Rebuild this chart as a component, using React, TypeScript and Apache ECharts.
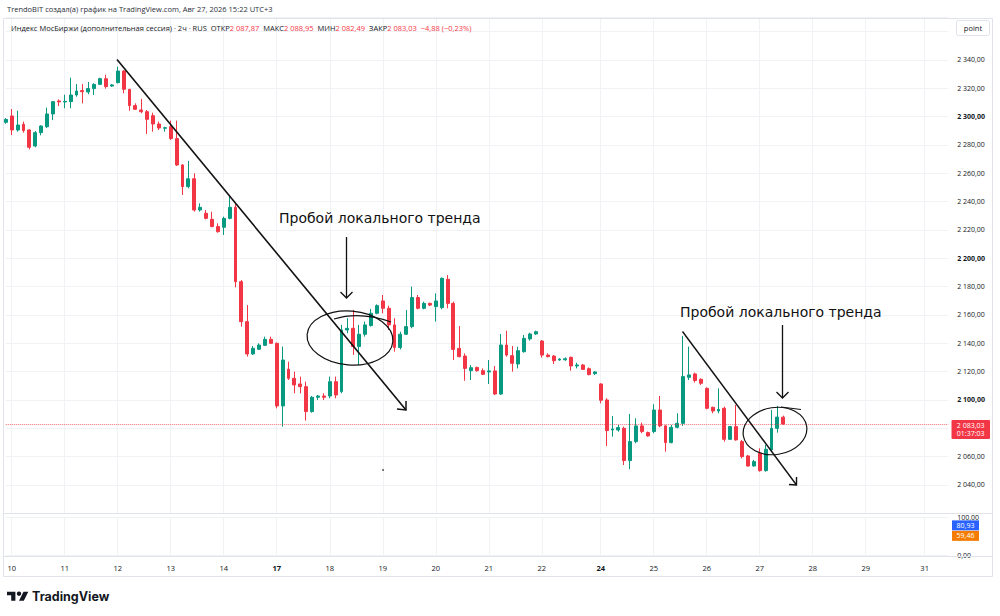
import React, { useEffect, useRef } from 'react';
import * as echarts from 'echarts';

// ---- data (2h candles, index 0 = last bar of the previous session) ----
const opens = [
  2296, 2300.5, 2290.6, 2294.6, 2290.6, 2279.3, 2288.7, 2292.9, 2301.9, 2311.1,
  2310.4, 2310.6, 2315.3, 2318.4, 2317.4, 2319.8, 2322.8, 2326.8, 2321.6, 2324,
  2332.2, 2319.3, 2307.8, 2304.7, 2303.5, 2300.7, 2294.8, 2291.8, 2293, 2284.5,
  2265.9, 2250.6, 2256.2, 2234.1, 2231.8, 2227.5, 2222.4, 2221.9, 2228.2, 2236,
  2183.5, 2155.3, 2132.5, 2135.8, 2138.6, 2142.8, 2140, 2095.8, 2121.7, 2115.3,
  2111.3, 2109.4, 2091.8, 2101.9, 2102.8, 2102.8, 2112.9, 2105.9, 2149.4, 2150.6,
  2137.7, 2146.4, 2152.5, 2161.2, 2169.9, 2164.7, 2153, 2137, 2146.4, 2151.8,
  2172.3, 2164.7, 2168.2, 2165.9, 2165.2, 2185.2, 2168.2, 2136.4, 2131, 2120.7,
  2123, 2120.7, 2119.8, 2120.5, 2104.2, 2138.8, 2131.3, 2125.4, 2134.1, 2143.1,
  2146.6, 2141.6, 2131.7, 2131, 2128.2, 2128.4, 2130.1, 2124, 2124.7, 2122.1,
  2118.6, 2111.3, 2100, 2078.8, 2078.8, 2080, 2057.2, 2070.6, 2081.7, 2077,
  2077.7, 2092.9, 2081.7, 2069.9, 2080.7, 2083.5, 2116, 2118.4, 2114.6, 2108.2,
  2094.8, 2092.2, 2094.1, 2072.2, 2081.2, 2070.6, 2060.5, 2053.4, 2062.4, 2050.1,
  2064.7, 2080, 2087.87,
];
const closes = [
  2298, 2290.6, 2294.1, 2290.1, 2278.4, 2288.7, 2293.4, 2301.9, 2310.6, 2310.4,
  2310.8, 2315.3, 2318.1, 2317.6, 2319.8, 2322.8, 2326.8, 2321.2, 2322.4, 2332.2,
  2319.3, 2307.8, 2305.2, 2303.5, 2298.1, 2294.8, 2292, 2292.2, 2284.5, 2265.9,
  2250.6, 2256.2, 2234.1, 2236, 2228.2, 2222.4, 2218.8, 2228.2, 2236, 2183.5,
  2155.3, 2132.5, 2136.5, 2138.8, 2142.8, 2140, 2095.8, 2128.2, 2115.3, 2110.6,
  2109.4, 2091.8, 2101.9, 2102.8, 2101.9, 2112.9, 2103.5, 2149.4, 2150.6, 2137.7,
  2146.4, 2153, 2161.2, 2166.6, 2164.7, 2153, 2137, 2146.4, 2151.8, 2172.3,
  2164.7, 2168.2, 2167, 2169.9, 2185.9, 2168.2, 2135.7, 2130.6, 2122.3, 2122.8,
  2120.7, 2118.1, 2120.5, 2104.2, 2138.8, 2131.7, 2125.9, 2134.8, 2143.5, 2146.6,
  2148.2, 2131.7, 2130.6, 2127.7, 2128.9, 2129.1, 2124, 2124.7, 2121.6, 2117.9,
  2119.8, 2099.8, 2078.4, 2079.5, 2080.5, 2057.2, 2070.6, 2081.7, 2077.7, 2074.6,
  2092.9, 2081.7, 2069.9, 2080.7, 2083.5, 2116.5, 2117.7, 2113.7, 2111.8, 2094.1,
  2092.2, 2093.4, 2072.2, 2081.2, 2071.8, 2060, 2053.4, 2056.5, 2050.1, 2065.2,
  2080, 2087.91, 2083.03,
];
const lows = [
  2295, 2287, 2289.4, 2288.7, 2276.9, 2278.4, 2286.8, 2292, 2297.6, 2307.5,
  2305.9, 2305.9, 2314.1, 2309.4, 2315.8, 2315.3, 2322.3, 2319.8, 2321, 2323.5,
  2316.5, 2304.2, 2304.7, 2302.4, 2287.8, 2289.4, 2290.6, 2289.4, 2283.5, 2265.2,
  2244.7, 2249.4, 2233, 2233, 2227.5, 2221.9, 2218.1, 2216.5, 2227.5, 2179.5,
  2151.8, 2130.6, 2131.8, 2135.3, 2138.1, 2139.5, 2094.1, 2081.2, 2114.1, 2104.7,
  2104.7, 2085.4, 2091, 2100, 2100, 2101.2, 2101.2, 2104.7, 2147.1, 2131.8,
  2124.7, 2144.7, 2151.8, 2160.5, 2161.2, 2149.4, 2134.1, 2135.7, 2145.9, 2150.6,
  2164, 2164, 2166.3, 2155.3, 2164, 2164.7, 2128.2, 2130.1, 2113.6, 2114.1,
  2120, 2117.6, 2111.3, 2103.5, 2103.5, 2130.6, 2120, 2122.3, 2133.4, 2141.9,
  2145.9, 2129.9, 2130.1, 2125.4, 2127.7, 2127.7, 2120.7, 2122.3, 2121.2, 2117.4,
  2117.6, 2097.6, 2067.5, 2074.1, 2077.6, 2054.1, 2051.1, 2069.4, 2076.5, 2074.1,
  2076.5, 2080.7, 2063.5, 2069.4, 2080, 2081.7, 2114.1, 2112.3, 2110.6, 2093.4,
  2090.6, 2090.6, 2070.6, 2071.8, 2071.3, 2058.8, 2053, 2053, 2049.4, 2049.4,
  2063.5, 2076.9, 2082.49,
];
const highs = [
  2299, 2305.4, 2304.2, 2296.5, 2291.2, 2289.9, 2293.9, 2306.4, 2310.9, 2312.2,
  2315.5, 2327.5, 2323, 2323, 2324.5, 2323.5, 2327.5, 2329.6, 2323, 2335.3,
  2332.9, 2319.5, 2309.4, 2312.5, 2304.7, 2302.8, 2296.5, 2292.8, 2297.2, 2297.2,
  2266.5, 2268.7, 2260, 2238.8, 2234.1, 2232.9, 2224.7, 2229.4, 2243.5, 2238.8,
  2184.7, 2167, 2138.1, 2140, 2144.7, 2144.7, 2140.5, 2137.7, 2127, 2120,
  2116.5, 2113, 2102.8, 2103.5, 2104.7, 2116.5, 2116.5, 2153, 2157.7, 2163.6,
  2153, 2155.3, 2164.3, 2167.5, 2174.1, 2166.6, 2157.7, 2148.2, 2163.5, 2180,
  2174.1, 2169.4, 2168.7, 2175.3, 2186.5, 2188.2, 2169.4, 2152.2, 2132.9, 2124.7,
  2123.5, 2122.3, 2128.2, 2124, 2146.6, 2148.9, 2138.1, 2137.6, 2145.9, 2147.5,
  2148.9, 2142.3, 2132.9, 2131.7, 2129.4, 2130.1, 2130.6, 2126.3, 2125.4, 2123,
  2120.3, 2111.8, 2101.2, 2088.7, 2082.4, 2081.2, 2090.1, 2087.1, 2084, 2077.7,
  2097, 2102.8, 2082.4, 2082.4, 2090.6, 2145.2, 2137.7, 2119.3, 2115.3, 2108.9,
  2095.3, 2108.2, 2095.3, 2081.7, 2096.5, 2071.8, 2061.2, 2057.7, 2065.9, 2068.2,
  2093, 2095.8, 2088.95,
];

// time axis: day labels and the bar slot where each day starts (incl. future days)
const dayLabels = ['10', '11', '12', '13', '14', '17', '18', '19', '20', '21', '22', '24', '25', '26', '27', '28', '29', '31'];
const dayStarts = [1, 10, 19, 28, 37, 46, 55, 64, 73, 82, 91, 101, 110, 119, 128, 137, 146, 156];
const boldDays = ['17', '24'];
const slotCount = 161;

// price scale
const priceMin = 2020;
const priceMax = 2370;
const priceStep = 20;
const labelMin = 2040;
const labelMax = 2340;

// lower pane indicator last values
const indicatorValues = [80.93, 59.46];
const indicatorColors = ['#2962ff', '#f57c00'];

const countdown = '01:37:03';
const headerText = 'TrendoBIT создал(а) график на TradingView.com, Авг 27, 2026 15:22 UTC+3';
const instrument = 'Индекс МосБиржи (дополнительная сессия) · 2ч · RUS';
const noteText = 'Пробой локального тренда';

const UP = '#089981';
const DOWN = '#f23645';
const GRID = '#f0f2f6';
const BORDER = '#e0e3eb';
const TXT = '#131722';
const FONT = '"Open Sans", "Noto Sans", sans-serif';
const NOTE_FONT = '"DejaVu Sans", Verdana, sans-serif';

function fmt(v: number): string {
  const neg = v < 0;
  const [i, d] = Math.abs(v).toFixed(2).split('.');
  return (neg ? '−' : '') + i.replace(/\B(?=(\d{3})+(?!\d))/g, ' ') + ',' + d;
}

export default function App() {
  const ref = useRef<HTMLDivElement>(null);

  useEffect(() => {
    const el = ref.current;
    if (!el) return;
    echarts.graphic.registerShape(
      'tvlogo',
      echarts.graphic.extendPath('M14 22H7V11H0V4h14v18zM28 22h-8l7.5-18h8L28 22z', {})
    );
    const chart = echarts.init(el, null, { renderer: 'svg' });

    const cats = Array.from({ length: slotCount }, (_, i) => {
      const k = dayStarts.indexOf(i);
      return k >= 0 ? dayLabels[k] : '';
    });
    const isDayStart = (i: number) => dayStarts.indexOf(i) >= 0;
    const candles = opens.map((o, i) => [o, closes[i], lows[i], highs[i]]);
    const n = opens.length;
    const lastO = opens[n - 1];
    const lastC = closes[n - 1];
    const lastL = lows[n - 1];
    const lastH = highs[n - 1];
    const chg = lastC - closes[n - 2];
    const pct = (chg / closes[n - 2]) * 100;

    const xCommon = {
      type: 'category',
      data: cats,
      boundaryGap: false,
      axisLine: { show: false },
      axisTick: { show: false },
      splitLine: { show: true, interval: (i: number) => isDayStart(i), lineStyle: { color: GRID, width: 1 } },
    };

    const option: any = {
      animation: false,
      backgroundColor: '#ffffff',
      grid: [
        { left: 5.8, width: 942.4, top: 17.5, height: 495.8 },
        { left: 5.8, width: 942.4, top: 517, height: 38.6 },
      ],
      xAxis: [
        { ...xCommon, gridIndex: 0, axisLabel: { show: false } },
        {
          ...xCommon,
          gridIndex: 1,
          axisLabel: {
            show: true,
            interval: (i: number) => isDayStart(i),
            margin: 8,
            fontSize: 7.5,
            color: TXT,
            fontFamily: FONT,
            formatter: (v: string) => (boldDays.indexOf(v) >= 0 ? `{b|${v}}` : v),
            rich: { b: { fontWeight: 'bold', fontSize: 7.5, color: TXT, fontFamily: FONT } },
          },
        },
      ],
      yAxis: [
        {
          type: 'value',
          gridIndex: 0,
          position: 'right',
          min: priceMin,
          max: priceMax,
          interval: priceStep,
          axisLine: { show: false },
          axisTick: { show: false },
          splitLine: { show: true, lineStyle: { color: GRID } },
          axisLabel: {
            margin: 9,
            fontSize: 7,
            color: TXT,
            fontFamily: FONT,
            showMaxLabel: false,
            formatter: (v: number) => {
              if (v < labelMin || v > labelMax) return '';
              // the last-price badge covers the scale labels next to it
              if (Math.abs(v - lastC) < 8) return '';
              const s = fmt(v);
              return v % 100 === 0 ? `{b|${s}}` : s;
            },
            rich: { b: { fontWeight: 'bold', fontSize: 7, color: TXT, fontFamily: FONT } },
          },
        },
        {
          type: 'value',
          gridIndex: 1,
          position: 'right',
          min: 0,
          max: 100,
          interval: 100,
          axisLine: { show: false },
          axisTick: { show: false },
          splitLine: { show: true, lineStyle: { color: GRID } },
          axisLabel: { margin: 9, fontSize: 7, color: TXT, fontFamily: FONT, formatter: (v: number) => fmt(v) },
        },
      ],
      series: [
        {
          type: 'candlestick',
          xAxisIndex: 0,
          yAxisIndex: 0,
          data: candles,
          barWidth: 3.4,
          itemStyle: { color: UP, color0: DOWN, borderColor: UP, borderColor0: DOWN, borderWidth: 1 },
          markLine: {
            silent: true,
            symbol: ['none', 'none'],
            label: { show: false },
            lineStyle: { type: 'dotted', color: DOWN, width: 1, opacity: 0.7 },
            data: [{ yAxis: lastC }],
          },
        },
      ],
    };
    chart.setOption(option);

    const yLast = chart.convertToPixel({ yAxisIndex: 0 }, lastC) as number;
    const yInd = chart.convertToPixel({ yAxisIndex: 1 }, indicatorValues[0]) as number;

    const ink = '#111111';
    const g: any[] = [];
    // frame & separators
    g.push({ type: 'rect', z: 50, shape: { x: 3.5, y: 18.5, width: 989, height: 558 }, style: { fill: 'none', stroke: BORDER, lineWidth: 1 } });
    g.push({ type: 'line', z: 50, shape: { x1: 3.5, y1: 513.5, x2: 992.5, y2: 513.5 }, style: { stroke: BORDER, lineWidth: 1 } });
    g.push({ type: 'line', z: 50, shape: { x1: 3.5, y1: 556.5, x2: 992.5, y2: 556.5 }, style: { stroke: BORDER, lineWidth: 1 } });
    // header and legend
    g.push({ type: 'text', z: 60, x: 7, y: 9, style: { text: headerText, fill: '#2a2e39', fontSize: 7.5, fontFamily: FONT, verticalAlign: 'middle' } });
    const sign = chg < 0 ? '−' : '+';
    g.push({
      type: 'text', z: 60, x: 11, y: 28,
      style: {
        text: `{a|${instrument}  ОТКР}{r|${fmt(lastO)}}{a|  МАКС}{r|${fmt(lastH)}}{a|  МИН}{r|${fmt(lastL)}}{a|  ЗАКР}{r|${fmt(lastC)}}{r|  ${sign}${fmt(Math.abs(chg))} (${sign}${fmt(Math.abs(pct))}%)}`,
        verticalAlign: 'middle',
        fontSize: 7.5,
        fontFamily: FONT,
        rich: {
          a: { fill: TXT, fontSize: 7.5, fontFamily: FONT },
          r: { fill: DOWN, fontSize: 7.5, fontFamily: FONT },
        },
      },
    });
    // "point" box
    g.push({ type: 'rect', z: 60, shape: { x: 956.5, y: 20.5, width: 33, height: 15, r: 2 }, style: { fill: '#fff', stroke: BORDER, lineWidth: 1 } });
    g.push({ type: 'text', z: 61, x: 973, y: 28, style: { text: 'point', fill: TXT, fontSize: 7.5, fontFamily: FONT, align: 'center', verticalAlign: 'middle' } });

    // last price badge (price + countdown in one two-line text)
    g.push({ type: 'rect', z: 60, shape: { x: 951.5, y: yLast - 4, width: 38.5, height: 19, r: 1 }, style: { fill: DOWN } });
    g.push({
      type: 'text', z: 61, x: 970.7, y: yLast + 5.5,
      style: { text: fmt(lastC) + '\n' + countdown, fill: '#fff', fontSize: 7, lineHeight: 8.5, fontFamily: FONT, align: 'center', verticalAlign: 'middle' },
    });
    // indicator badges
    indicatorValues.forEach((v, k) => {
      const top = yInd - 4 + k * 10.5;
      g.push({ type: 'rect', z: 60, shape: { x: 952, y: top, width: 27, height: 10 }, style: { fill: indicatorColors[k] } });
      g.push({ type: 'text', z: 61, x: 965.5, y: top + 5, style: { text: fmt(v), fill: '#fff', fontSize: 7, fontFamily: FONT, align: 'center', verticalAlign: 'middle' } });
    });

    // hand-drawn annotations
    g.push({ type: 'line', z: 100, shape: { x1: 117, y1: 59.5, x2: 406, y2: 410 }, style: { stroke: ink, lineWidth: 1.6 } });
    g.push({ type: 'polyline', z: 100, shape: { points: [[397, 409], [406, 410], [406, 401]] }, style: { stroke: ink, lineWidth: 1.5, fill: 'none' } });
    g.push({ type: 'line', z: 100, shape: { x1: 682.5, y1: 331.5, x2: 796.5, y2: 485 }, style: { stroke: ink, lineWidth: 1.4 } });
    g.push({ type: 'polyline', z: 100, shape: { points: [[789, 484.5], [796.5, 485], [796.5, 477]] }, style: { stroke: ink, lineWidth: 1.4, fill: 'none' } });

    g.push({ type: 'text', z: 100, x: 279, y: 217.5, style: { text: noteText, fill: ink, fontSize: 14, fontFamily: NOTE_FONT, verticalAlign: 'middle' } });
    g.push({ type: 'text', z: 100, x: 680, y: 311.5, style: { text: noteText, fill: ink, fontSize: 14, fontFamily: NOTE_FONT, verticalAlign: 'middle' } });

    g.push({ type: 'line', z: 100, shape: { x1: 346.5, y1: 237, x2: 346.5, y2: 298 }, style: { stroke: ink, lineWidth: 1.3 } });
    g.push({ type: 'polyline', z: 100, shape: { points: [[340.5, 292], [346.5, 298], [352.5, 292]] }, style: { stroke: ink, lineWidth: 1.3, fill: 'none' } });
    g.push({ type: 'line', z: 100, shape: { x1: 782.5, y1: 325, x2: 782.5, y2: 398 }, style: { stroke: ink, lineWidth: 1.3 } });
    g.push({ type: 'polyline', z: 100, shape: { points: [[776.5, 392], [782.5, 398], [788.5, 392]] }, style: { stroke: ink, lineWidth: 1.3, fill: 'none' } });

    g.push({ type: 'ellipse', z: 100, x: 350, y: 338, rotation: -0.08, shape: { cx: 0, cy: 0, rx: 43, ry: 27 }, style: { fill: 'none', stroke: ink, lineWidth: 1.2 } });
    g.push({ type: 'bezierCurve', z: 100, shape: { x1: 334, y1: 319, x2: 391, y2: 322, cpx1: 360, cpy1: 311 }, style: { fill: 'none', stroke: ink, lineWidth: 1.1 } });
    g.push({ type: 'ellipse', z: 100, x: 775, y: 431, rotation: 0.15, shape: { cx: 0, cy: 0, rx: 32, ry: 23.5 }, style: { fill: 'none', stroke: ink, lineWidth: 1.2 } });
    g.push({ type: 'line', z: 100, shape: { x1: 781, y1: 407, x2: 801, y2: 409.5 }, style: { stroke: ink, lineWidth: 1.1 } });
    g.push({ type: 'circle', z: 100, shape: { cx: 383, cy: 470, r: 0.9 }, style: { fill: '#444' } });

    // TradingView logo
    g.push({ type: 'tvlogo', z: 60, x: 7, y: 589.7, scaleX: 0.6, scaleY: 0.5, style: { fill: TXT } });
    g.push({ type: 'circle', z: 60, shape: { cx: 7 + 20 * 0.6, cy: 589.7 + 8 * 0.5, r: 2.2 }, style: { fill: TXT } });
    g.push({ type: 'text', z: 60, x: 32, y: 596.5, style: { text: 'TradingView', fill: TXT, fontSize: 12.5, fontWeight: 'bold', fontFamily: 'Inter, Roboto, sans-serif', verticalAlign: 'middle' } });

    chart.setOption({ graphic: g });

    return () => {
      chart.dispose();
    };
  }, []);

  return (
    <div
      ref={ref}
      style={{ position: 'fixed', left: 0, top: 0, width: 1000, height: 616, background: '#ffffff' }}
    />
  );
}
